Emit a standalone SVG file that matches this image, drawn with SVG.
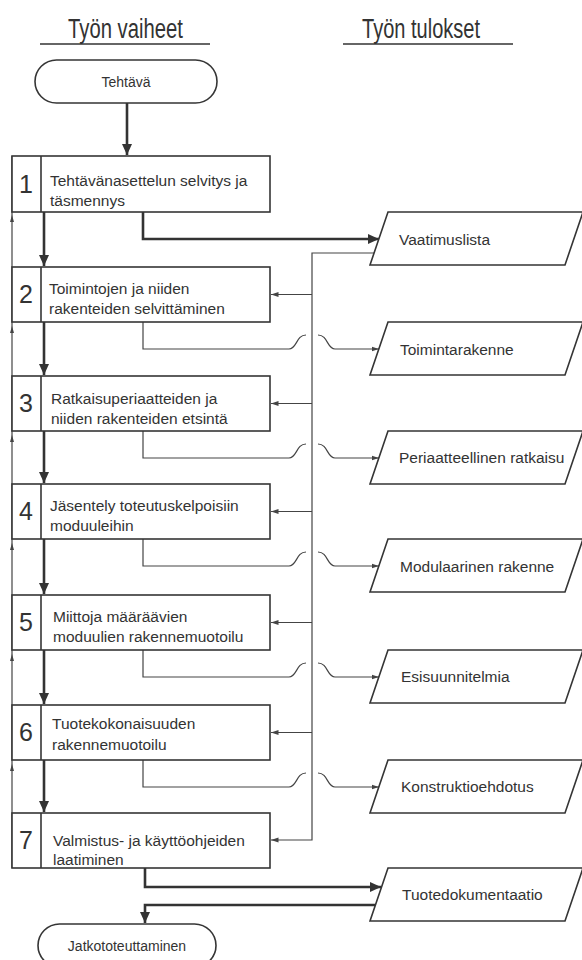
<svg xmlns="http://www.w3.org/2000/svg" width="582" height="960" viewBox="0 0 582 960">
<style>
.bg{fill:#ffffff}
.shape{fill:#ffffff;stroke:#353535;stroke-width:1.6}
.thick{fill:none;stroke:#333333;stroke-width:2.6}
.thin{fill:none;stroke:#444444;stroke-width:1.2}
.t{font-family:"Liberation Sans",Arial,sans-serif;font-size:15.5px;fill:#333333}
.term{font-family:"Liberation Sans",Arial,sans-serif;font-size:14px;fill:#333333;text-anchor:middle}
.num{font-family:"Liberation Sans",Arial,sans-serif;font-size:25px;fill:#333333;text-anchor:middle}
.hdr{font-family:"Liberation Sans",Arial,sans-serif;font-size:27px;fill:#333333}
.tick{fill:#444444}
</style>
<defs>
<marker id="ahThick" markerUnits="userSpaceOnUse" markerWidth="12" markerHeight="12" viewBox="0 0 12 12" refX="11" refY="6" orient="auto">
<path d="M0,1 L11,6 L0,11 Z" fill="#333333"/>
</marker>
<marker id="ahThin" markerUnits="userSpaceOnUse" markerWidth="8" markerHeight="8" viewBox="0 0 8 8" refX="7.5" refY="4" orient="auto">
<path d="M0,1.5 L7.5,4 L0,6.5 Z" fill="#444444"/>
</marker>
</defs>
<rect class="bg" x="0" y="0" width="582" height="960"/>

<g id="headers">
<text class="hdr" x="68" y="38" textLength="115" lengthAdjust="spacingAndGlyphs">Työn vaiheet</text>
<line x1="40" y1="44" x2="210" y2="44" stroke="#333" stroke-width="1.6"/>
<text class="hdr" x="362" y="38" textLength="118" lengthAdjust="spacingAndGlyphs">Työn tulokset</text>
<line x1="343" y1="44" x2="513" y2="44" stroke="#333" stroke-width="1.6"/>
</g>

<g id="connectors">
<!-- start to step 1 -->
<path class="thick" d="M127,103 V155" marker-end="url(#ahThick)"/>
<!-- step to step -->
<path class="thick" d="M44,212 V266" marker-end="url(#ahThick)"/>
<path class="thick" d="M44,322 V375" marker-end="url(#ahThick)"/>
<path class="thick" d="M44,431 V483" marker-end="url(#ahThick)"/>
<path class="thick" d="M44,539 V594" marker-end="url(#ahThick)"/>
<path class="thick" d="M44,650 V704" marker-end="url(#ahThick)"/>
<path class="thick" d="M44,760 V812" marker-end="url(#ahThick)"/>
<!-- left feedback line -->
<path class="thin" d="M12,868 V156"/>
<path class="tick" d="M12,215 L10,222 L14,222 Z"/>
<path class="tick" d="M12,326 L10,333 L14,333 Z"/>
<path class="tick" d="M12,435 L10,442 L14,442 Z"/>
<path class="tick" d="M12,543 L10,550 L14,550 Z"/>
<path class="tick" d="M12,654 L10,661 L14,661 Z"/>
<path class="tick" d="M12,764 L10,771 L14,771 Z"/>
<!-- step 1 output -->
<path class="thick" d="M143,212 V239 H379" marker-end="url(#ahThick)"/>
<!-- feedback bus from Vaatimuslista -->
<path class="thin" d="M374,253 H312 V840 H271" marker-end="url(#ahThin)"/>
<path class="thin" d="M312,294.5 H271" marker-end="url(#ahThin)"/>
<path class="thin" d="M312,403.5 H271" marker-end="url(#ahThin)"/>
<path class="thin" d="M312,511.5 H271" marker-end="url(#ahThin)"/>
<path class="thin" d="M312,622.5 H271" marker-end="url(#ahThin)"/>
<path class="thin" d="M312,732.5 H271" marker-end="url(#ahThin)"/>
<!-- outputs with jumps -->
<path class="thin" d="M143,322 V349 H289 C297,349 296,335 306,335"/>
<path class="thin" d="M318,335 C328,335 327,349 335,349 H379" marker-end="url(#ahThin)"/>
<path class="thin" d="M143,431 V458 H289 C297,458 296,444 306,444"/>
<path class="thin" d="M318,444 C328,444 327,458 335,458 H379" marker-end="url(#ahThin)"/>
<path class="thin" d="M143,539 V566 H289 C297,566 296,552 306,552"/>
<path class="thin" d="M318,552 C328,552 327,566 335,566 H379" marker-end="url(#ahThin)"/>
<path class="thin" d="M143,650 V677 H289 C297,677 296,663 306,663"/>
<path class="thin" d="M318,663 C328,663 327,677 335,677 H379" marker-end="url(#ahThin)"/>
<path class="thin" d="M143,760 V787 H289 C297,787 296,773 306,773"/>
<path class="thin" d="M318,773 C328,773 327,787 335,787 H379" marker-end="url(#ahThin)"/>
<!-- step 7 output and return -->
<path class="thick" d="M145,868 V887 H381" marker-end="url(#ahThick)"/>
<path class="thick" d="M375,905 H145 V923" marker-end="url(#ahThick)"/>
</g>

<g id="start">
<rect class="shape" x="35" y="60" width="182" height="43" rx="21.5" ry="21.5"/>
<text class="term" x="126" y="87">Tehtävä</text>
</g>

<g id="step1">
<rect class="shape" x="12" y="156" width="258" height="56"/>
<line x1="41" y1="156" x2="41" y2="212" stroke="#353535" stroke-width="1.6"/>
<text class="num" x="26" y="193">1</text>
<text class="t" x="50" y="186">Tehtävänasettelun selvitys ja</text>
<text class="t" x="50" y="206">täsmennys</text>
</g>
<g id="step2">
<rect class="shape" x="12" y="267" width="258" height="55"/>
<line x1="41" y1="267" x2="41" y2="322" stroke="#353535" stroke-width="1.6"/>
<text class="num" x="26" y="303">2</text>
<text class="t" x="49" y="294">Toimintojen ja niiden</text>
<text class="t" x="49" y="314">rakenteiden selvittäminen</text>
</g>
<g id="step3">
<rect class="shape" x="12" y="376" width="258" height="55"/>
<line x1="41" y1="376" x2="41" y2="431" stroke="#353535" stroke-width="1.6"/>
<text class="num" x="26" y="412">3</text>
<text class="t" x="51" y="404">Ratkaisuperiaatteiden ja</text>
<text class="t" x="51" y="424">niiden rakenteiden etsintä</text>
</g>
<g id="step4">
<rect class="shape" x="12" y="484" width="258" height="55"/>
<line x1="41" y1="484" x2="41" y2="539" stroke="#353535" stroke-width="1.6"/>
<text class="num" x="26" y="520">4</text>
<text class="t" x="50" y="511">Jäsentely toteutuskelpoisiin</text>
<text class="t" x="50" y="531">moduuleihin</text>
</g>
<g id="step5">
<rect class="shape" x="12" y="595" width="258" height="55"/>
<line x1="41" y1="595" x2="41" y2="650" stroke="#353535" stroke-width="1.6"/>
<text class="num" x="26" y="631">5</text>
<text class="t" x="53" y="622">Miittoja määräävien</text>
<text class="t" x="53" y="642">moduulien rakennemuotoilu</text>
</g>
<g id="step6">
<rect class="shape" x="12" y="705" width="258" height="55"/>
<line x1="41" y1="705" x2="41" y2="760" stroke="#353535" stroke-width="1.6"/>
<text class="num" x="26" y="741">6</text>
<text class="t" x="52" y="729">Tuotekokonaisuuden</text>
<text class="t" x="52" y="750">rakennemuotoilu</text>
</g>
<g id="step7">
<rect class="shape" x="12" y="813" width="258" height="55"/>
<line x1="41" y1="813" x2="41" y2="868" stroke="#353535" stroke-width="1.6"/>
<text class="num" x="26" y="849">7</text>
<text class="t" x="53" y="846">Valmistus- ja käyttöohjeiden</text>
<text class="t" x="53" y="865">laatiminen</text>
</g>

<g id="result1">
<polygon class="shape" points="388,212 583,212 565,265 370,265"/>
<text class="t" x="399" y="245">Vaatimuslista</text>
</g>
<g id="result2">
<polygon class="shape" points="388,322 583,322 565,375 370,375"/>
<text class="t" x="400" y="355">Toimintarakenne</text>
</g>
<g id="result3">
<polygon class="shape" points="388,431 583,431 565,484 370,484"/>
<text class="t" x="399" y="463">Periaatteellinen ratkaisu</text>
</g>
<g id="result4">
<polygon class="shape" points="388,539 583,539 565,592 370,592"/>
<text class="t" x="400" y="572">Modulaarinen rakenne</text>
</g>
<g id="result5">
<polygon class="shape" points="388,650 583,650 565,703 370,703"/>
<text class="t" x="401" y="682">Esisuunnitelmia</text>
</g>
<g id="result6">
<polygon class="shape" points="388,760 583,760 565,813 370,813"/>
<text class="t" x="401" y="792">Konstruktioehdotus</text>
</g>
<g id="result7">
<polygon class="shape" points="388,868 583,868 565,921 370,921"/>
<text class="t" x="402" y="900">Tuotedokumentaatio</text>
</g>

<g id="end">
<rect class="shape" x="38" y="924" width="178" height="43" rx="21.5" ry="21.5"/>
<text class="term" x="127" y="951">Jatkototeuttaminen</text>
</g>
</svg>
